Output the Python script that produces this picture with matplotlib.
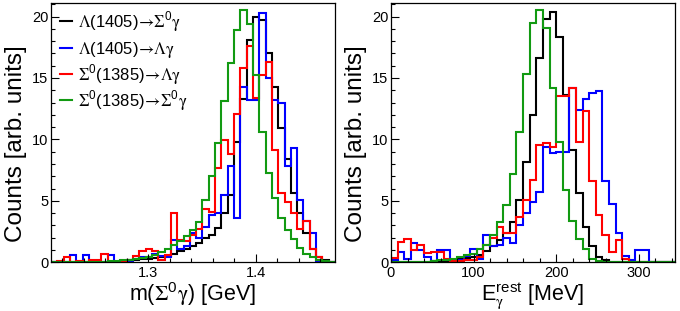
import numpy as np
import matplotlib
matplotlib.use("Agg")
import matplotlib.pyplot as plt
from matplotlib.ticker import MultipleLocator
from matplotlib.legend import Legend

plt.rcParams['font.family'] = ['Liberation Sans', 'DejaVu Sans']
plt.rcParams['mathtext.fontset'] = 'custom'
plt.rcParams['mathtext.rm'] = 'STIXGeneral'
plt.rcParams['mathtext.it'] = 'STIXGeneral:italic'
plt.rcParams['mathtext.bf'] = 'STIXGeneral:bold'
plt.rcParams['mathtext.sf'] = 'Liberation Sans'

# ---------------- data ----------------
# left panel: m(Sigma0 gamma) [GeV], 45 bins
mass_range = (1.2093, 1.4740)
mass_nbins = 45
mass_lambda_sigma = [0, 0, 0, 0, 0, 0.05, 0.05, 0.05, 0.05, 0.05,
                     0.05, 0.1, 0.15, 0.2, 0.25, 0.3, 0.35, 0.45, 0.55, 0.7,
                     0.9, 1.1, 1.3, 1.6, 2.0, 2.2, 2.8, 4.0, 5.5, 9.8,
                     13.3, 18.1, 20.0, 19.7, 17.0, 14.3, 10.9, 8.4, 5.6, 4.0,
                     2.4, 1.1, 0.4, 0.15, 0.0]
mass_lambda_lambda = [0, 0, 0, 0.6, 0, 0.6, 0, 0.05, 0, 0.6,
                      0, 0.1, 0.0, 0.3, 0.4, 0.45, 0.7, 0.5, 0.45, 1.8,
                      1.1, 1.3, 2.4, 2.0, 2.9, 3.85, 4.0, 5.5, 7.8, 3.6,
                      14.3, 13.2, 13.2, 20.3, 15.0, 13.2, 12.95, 7.8, 9.3, 5.1,
                      3.4, 2.4, 0.0, 0.0, 0.0]
mass_sigma_lambda = [0, 0.1, 0.45, 0, 0.1, 0, 0.2, 0.2, 0.7, 0,
                     0, 0.1, 0.2, 0.5, 0.95, 1.1, 0.95, 0.2, 0.6, 4.0,
                     1.8, 1.7, 2.2, 2.7, 4.3, 4.1, 7.65, 9.96, 8.8, 12.1,
                     15.8, 17.6, 13.35, 15.25, 16.3, 9.1, 5.6, 4.9, 4.0, 2.7,
                     3.4, 1.1, 0.4, 0.0, 0.0]
mass_sigma_sigma = [0.03, 0.03, 0.03, 0.03, 0.03, 0.03, 0.03, 0.03, 0.05, 0.08,
                    0.1, 0.15, 0.2, 0.25, 0.35, 0.45, 0.6, 0.8, 1.1, 1.4,
                    1.7, 2.1, 2.6, 3.3, 5.1, 7.0, 9.7, 13.1, 16.2, 18.9,
                    20.5, 19.4, 15.25, 10.6, 7.3, 5.2, 3.6, 2.6, 1.9, 1.2,
                    0.7, 0.4, 0.2, 0.1, 0.05]

# right panel: E_gamma^rest [MeV], 8 MeV bins
egam_range = (0, 344)
egam_nbins = 43
egam_lambda_sigma = [0.05, 0.05, 0.0, 0.05, 0.05, 0.05, 0.1, 0.1, 0.1, 0.15,
                     0.25, 0.35, 0.45, 0.6, 0.9, 1.3, 1.8, 2.4, 3.3, 5.1,
                     8.2, 12.0, 16.6, 19.8, 20.4, 18.3, 13.6, 9.1, 5.6, 2.9,
                     1.3, 0.4, 0.2, 0.05, 0, 0, 0, 0, 0, 0,
                     0, 0, 0]
egam_lambda_lambda = [0.2, 0.85, 0.3, 1.6, 1.0, 0.45, 0.1, 1.0, 1.0, 0.1,
                      0.2, 0.5, 1.05, 0.3, 2.2, 1.3, 1.4, 2.0, 1.6, 3.0,
                      4.0, 4.9, 5.7, 9.4, 8.9, 9.0, 9.0, 14.2, 12.4, 13.3,
                      13.75, 13.9, 6.6, 4.75, 2.4, 0.5, 0.15, 1.0, 1.0, 0,
                      0, 0, 0]
egam_sigma_lambda = [0.35, 1.65, 1.9, 1.0, 1.4, 0.75, 0.85, 0.8, 0.3, 0.1,
                     0.1, 0.15, 0.2, 0.4, 1.4, 2.0, 2.9, 2.4, 2.35, 3.7,
                     5.1, 6.7, 9.55, 9.7, 9.35, 13.5, 13.5, 14.2, 9.8, 12.3,
                     6.6, 3.85, 2.2, 0.8, 1.8, 0.3, 0.05, 0, 0, 0,
                     0, 0, 0]
egam_sigma_sigma = [0.05, 0.05, 0.05, 0.05, 0.05, 0.05, 0.1, 0.15, 0.15, 0.25,
                    0.4, 0.6, 0.7, 1.1, 1.4, 2.2, 3.3, 4.7, 7.2, 10.6,
                    15.3, 19.5, 20.5, 19.05, 14.2, 9.8, 5.9, 3.4, 1.9, 1.05,
                    0.3, 0.1, 0.05, 0.05, 0.05, 0.05, 0.05, 0.05, 0.05, 0.05,
                    0.05, 0.05, 0.05]

labels = [r"$\mathrm{\Lambda}$(1405)$\!\rightarrow\!\mathrm{\Sigma}^{\mathsf{0}}\mathrm{\gamma}$",
          r"$\mathrm{\Lambda}$(1405)$\!\rightarrow\!\mathrm{\Lambda\gamma}$",
          r"$\mathrm{\Sigma}^{\mathsf{0}}$(1385)$\!\rightarrow\!\mathrm{\Lambda\gamma}$",
          r"$\mathrm{\Sigma}^{\mathsf{0}}$(1385)$\!\rightarrow\!\mathrm{\Sigma}^{\mathsf{0}}\mathrm{\gamma}$"]
colors = ['black', '#0000ff', '#ff0000', '#129a12']

ylim = (0, 21.1)

# ---------------- figure ----------------
W, H = 680, 311
fig = plt.figure(figsize=(W / 100, H / 100), dpi=100)
ax1 = fig.add_axes([51 / W, (H - 262.3) / H, 284 / W, 259.3 / H])
ax2 = fig.add_axes([391 / W, (H - 262.3) / H, 284 / W, 259.3 / H])

mass_edges = np.linspace(mass_range[0], mass_range[1], mass_nbins + 1)
egam_edges = np.linspace(egam_range[0], egam_range[1], egam_nbins + 1)

left_series = [mass_lambda_sigma, mass_lambda_lambda, mass_sigma_lambda, mass_sigma_sigma]
right_series = [egam_lambda_sigma, egam_lambda_lambda, egam_sigma_lambda, egam_sigma_sigma]

lw = 1.5
handles = []
for vals, c, lab in zip(left_series, colors, labels):
    handles.append(ax1.stairs(vals, mass_edges, baseline=None, color=c, lw=lw, label=lab))
for vals, c in zip(right_series, colors):
    ax2.stairs(vals, egam_edges, baseline=None, color=c, lw=lw)

for ax in (ax1, ax2):
    ax.set_ylim(*ylim)
    ax.yaxis.set_major_locator(MultipleLocator(5))
    ax.yaxis.set_minor_locator(MultipleLocator(1))
    ax.tick_params(which='major', direction='in', length=6, width=0.8,
                   top=False, right=False, labelsize=10.5, colors='black')
    ax.tick_params(which='minor', direction='in', length=3, width=0.8,
                   top=False, right=False)
    ax.tick_params(axis='y', pad=2)
    ax.tick_params(axis='x', pad=3)
    for s in ax.spines.values():
        s.set_linewidth(0.9)
    ax.set_ylabel("Counts [arb. units]", fontsize=17.5)
    ax.yaxis.set_label_coords(-0.084, 0.458)

ax1.set_xlim(*mass_range)
ax1.xaxis.set_major_locator(MultipleLocator(0.1))
ax1.xaxis.set_minor_locator(MultipleLocator(0.02))
ax1.xaxis.set_major_formatter(plt.FuncFormatter(lambda v, p: f"{v:.1f}"))
ax1.set_xlabel(r"m($\mathrm{\Sigma}^{\mathsf{0}}\mathrm{\gamma}$) [GeV]", fontsize=15.5, labelpad=0)

ax2.set_xlim(*egam_range)
ax2.xaxis.set_major_locator(MultipleLocator(100))
ax2.xaxis.set_minor_locator(MultipleLocator(20))
ax2.set_xlabel(r"$\mathsf{E}_{\mathrm{\gamma}}^{\mathsf{rest}}$ [MeV]", fontsize=15.5, labelpad=0)

# legend: one row per entry, evenly spaced like the original
row_y = [0.9275, 0.8176, 0.7231, 0.6228]
for h, lab, yy in zip(handles, labels, row_y):
    lg = Legend(ax1, [h], [lab], loc='center left',
                bbox_to_anchor=(0.03, yy), frameon=False,
                fontsize=12, handlelength=0.75, handletextpad=0.35,
                borderpad=0, borderaxespad=0)
    ax1.add_artist(lg)

fig.savefig("out.png", dpi=100)
